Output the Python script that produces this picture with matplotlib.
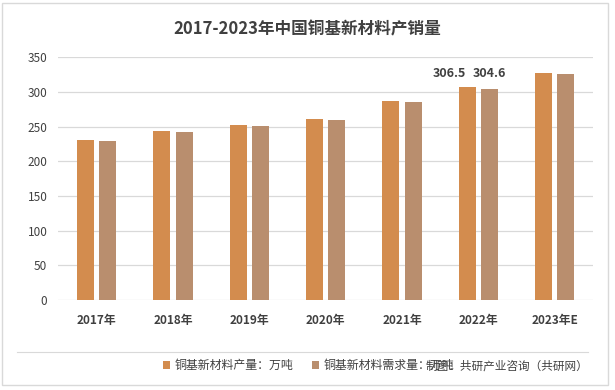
import numpy as np
import matplotlib.pyplot as plt
from matplotlib.patches import Rectangle

plt.rcParams['font.family'] = ['Noto Sans CJK SC', 'DejaVu Sans']

years = ['2017年', '2018年', '2019年', '2020年', '2021年', '2022年', '2023年E']
production = [230.8, 243.8, 252.4, 261.0, 287.0, 306.5, 327.4]
demand = [229.3, 242.3, 251.0, 259.6, 285.6, 304.6, 326.0]
labels_shown = {5: ('306.5', '304.6')}

c_prod = '#D38C4E'
c_dem = '#B98E6E'


def main():
    fig = plt.figure(figsize=(6.15, 3.9), dpi=100)
    ax = fig.add_axes([0.0951, 0.231, 0.869, 0.622])

    x = np.arange(len(years))
    w = 0.223
    off = 0.145
    ax.bar(x - off, production, w, color=c_prod, label='铜基新材料产量：万吨')
    ax.bar(x + off, demand, w, color=c_dem, label='铜基新材料需求量：万吨')

    # only 2022 carries value labels in the original
    for i, (a, b) in labels_shown.items():
        ax.text(i - off - 0.24, production[i] + 11, a, ha='center', va='bottom',
                fontsize=9, fontweight='bold', color='#404040')
        ax.text(i + off, demand[i] + 13, b, ha='center', va='bottom',
                fontsize=9, fontweight='bold', color='#404040')

    ax.set_ylim(0, 350)
    ax.set_yticks(range(0, 351, 50))
    ax.set_xlim(-0.5, len(years) - 0.5)
    ax.set_xticks(x)
    ax.set_xticklabels(years, fontsize=8.5, fontweight='bold', color='#404040')
    ax.tick_params(axis='y', labelsize=8.5, labelcolor='#404040', length=0, pad=8)
    ax.tick_params(axis='x', length=0, pad=10)
    ax.grid(axis='y', color='#D9D9D9', linewidth=0.9)
    ax.set_axisbelow(True)
    for s in ax.spines.values():
        s.set_visible(False)

    fig.text(0.5, 0.925, '2017-2023年中国铜基新材料产销量', ha='center', va='center',
             fontsize=12, fontweight='bold', color='#404040')

    # thin line above the legend row
    fig.add_artist(plt.Line2D([0.028, 0.956], [0.098, 0.098], color='#D9D9D9',
                              linewidth=0.8, transform=fig.transFigure))

    fig.legend(loc='center left', bbox_to_anchor=(0.265, 0.062), ncol=2, frameon=False,
               fontsize=8.6, handlelength=0.6, handleheight=0.6, columnspacing=1.6,
               handletextpad=0.35, labelcolor='#404040', borderaxespad=0, borderpad=0)
    fig.text(0.956, 0.062, '制图：共研产业咨询（共研网）', ha='right', va='center',
             fontsize=8.4, color='#404040')

    fig.add_artist(Rectangle((0.003, 0.012), 0.986, 0.98, fill=False,
                             edgecolor='#D9D9D9', linewidth=1,
                             transform=fig.transFigure))

    fig.savefig('out.png', dpi=100)


if __name__ == "__main__":
    main()
